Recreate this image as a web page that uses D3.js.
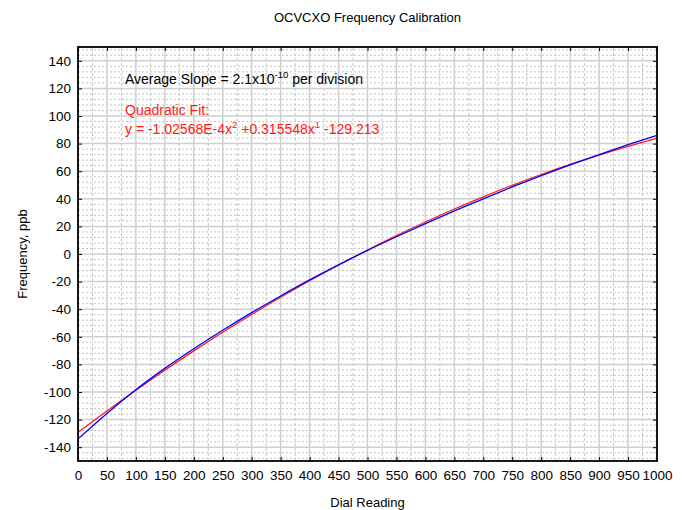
<!DOCTYPE html>
<html>
<head>
<meta charset="utf-8">
<script src="https://cdn.jsdelivr.net/npm/d3@7"></script>
<style>
  body { margin: 0; background: #fff; }
  text { font-family: "Liberation Sans", Arial, sans-serif; }
</style>
</head>
<body>
<div id="chart"></div>
<script>
'use strict';

var dial = [0, 50, 100, 150, 200, 250, 300, 350, 400, 450, 500,
            550, 600, 650, 700, 750, 800, 850, 900, 950, 1000];

// measured (blue)
var measured = [-134, -115.5, -98.3, -82.9, -68.7, -55.3, -42.5, -30.4, -18.8, -7.9, 2.6,
                12.5, 22.0, 31.2, 40.0, 48.6, 56.8, 64.6, 72.0, 79.2, 86.0];

// quadratic fit (red)
var fitted = [-129.2, -113.7, -98.7, -84.2, -70.2, -56.7, -43.8, -31.3, -19.4, -8.0, 2.9,
              13.3, 23.2, 32.6, 41.4, 49.8, 57.6, 64.9, 71.7, 78.0, 83.8];

var xTicks = d3.range(0, 1001, 50);
var yTicks = d3.range(-140, 141, 20);
var xMinor = d3.range(25, 1000, 50);
var yMinor = d3.range(-148, 150, 4).filter(function(v){ return v % 20 !== 0; });

var W = 683, H = 510;
var margin = {left: 78, right: 26, top: 47, bottom: 49};

var svg = d3.select('#chart').append('svg')
  .attr('width', W)
  .attr('height', H);

var x = d3.scaleLinear().domain([0, 1000]).range([margin.left, W - margin.right]);
var y = d3.scaleLinear().domain([-150, 150]).range([H - margin.bottom, margin.top]);

var grid = svg.append('g');

// minor grid
grid.selectAll('.hmin').data(yMinor).enter().append('line')
  .attr('x1', x(0)).attr('x2', x(1000))
  .attr('y1', function(d){ return y(d); }).attr('y2', function(d){ return y(d); })
  .attr('stroke', '#c4c4c4').attr('stroke-width', 1)
  .attr('stroke-dasharray', '2,2');

grid.selectAll('.vmin').data(xMinor).enter().append('line')
  .attr('y1', y(-150)).attr('y2', y(150))
  .attr('x1', function(d){ return x(d); }).attr('x2', function(d){ return x(d); })
  .attr('stroke', '#c4c4c4').attr('stroke-width', 1)
  .attr('stroke-dasharray', '3,2');

// major grid
grid.selectAll('.hmaj').data(yTicks).enter().append('line')
  .attr('x1', x(0)).attr('x2', x(1000))
  .attr('y1', function(d){ return y(d); }).attr('y2', function(d){ return y(d); })
  .attr('stroke', '#cfcfcf').attr('stroke-width', 1.5);

grid.selectAll('.vmaj').data(xTicks).enter().append('line')
  .attr('y1', y(-150)).attr('y2', y(150))
  .attr('x1', function(d){ return x(d); }).attr('x2', function(d){ return x(d); })
  .attr('stroke', '#cfcfcf').attr('stroke-width', 1.5);

// curves
var line = d3.line()
  .x(function(d){ return x(d[0]); })
  .y(function(d){ return y(d[1]); })
  .curve(d3.curveMonotoneX);

svg.append('path')
  .datum(d3.zip(dial, fitted))
  .attr('d', line)
  .attr('fill', 'none')
  .attr('stroke', '#ff1a1a')
  .attr('stroke-width', 1.3);

svg.append('path')
  .datum(d3.zip(dial, measured))
  .attr('d', line)
  .attr('fill', 'none')
  .attr('stroke', '#0000ff')
  .attr('stroke-width', 1.3);

// axes (plain hyphen for minus, as in the original)
var plain = function(d){ return String(d); };
var xAxis = d3.axisBottom(x).tickValues(xTicks).tickSize(-4).tickPadding(9).tickFormat(plain);
var yAxis = d3.axisLeft(y).tickValues(yTicks).tickSize(-4).tickPadding(7).tickFormat(plain);

var gx = svg.append('g').attr('transform', 'translate(0,' + y(-150) + ')').call(xAxis);
var gy = svg.append('g').attr('transform', 'translate(' + x(0) + ',0)').call(yAxis);
var gxt = svg.append('g').attr('transform', 'translate(0,' + y(150) + ')')
  .call(d3.axisTop(x).tickValues(xTicks).tickSize(-4).tickFormat(''));
var gyr = svg.append('g').attr('transform', 'translate(' + x(1000) + ',0)')
  .call(d3.axisRight(y).tickValues(yTicks).tickSize(-4).tickFormat(''));

[gx, gy, gxt, gyr].forEach(function(g){
  g.select('.domain').remove();
  g.selectAll('line').attr('stroke', '#000').attr('stroke-width', 1);
  g.selectAll('text').attr('font-size', 13.5).attr('fill', '#000')
    .attr('font-family', '"Liberation Sans", Arial, sans-serif');
});

// frame
svg.append('rect')
  .attr('x', x(0)).attr('y', y(150))
  .attr('width', x(1000) - x(0)).attr('height', y(-150) - y(150))
  .attr('fill', 'none').attr('stroke', '#000').attr('stroke-width', 1.8);

// titles
svg.append('text')
  .attr('x', (x(0) + x(1000)) / 2).attr('y', 22)
  .attr('text-anchor', 'middle').attr('font-size', 13)
  .text('OCVCXO Frequency Calibration');

svg.append('text')
  .attr('x', (x(0) + x(1000)) / 2).attr('y', 507)
  .attr('text-anchor', 'middle').attr('font-size', 13)
  .text('Dial Reading');

svg.append('text')
  .attr('transform', 'translate(27,' + ((y(150) + y(-150)) / 2) + ') rotate(-90)')
  .attr('text-anchor', 'middle').attr('font-size', 13)
  .text('Frequency, ppb');

// annotations
var t1 = svg.append('text').attr('x', 125).attr('y', 84).attr('font-size', 14);
t1.append('tspan').text('Average Slope = 2.1x10');
t1.append('tspan').attr('dy', -6).attr('font-size', 9.5).text('-10');
t1.append('tspan').attr('dy', 6).text(' per division');

svg.append('text').attr('x', 125).attr('y', 115).attr('font-size', 14)
  .attr('fill', '#ff1a1a').text('Quadratic Fit:');

var t2 = svg.append('text').attr('x', 125).attr('y', 134).attr('font-size', 14).attr('fill', '#ff1a1a');
t2.append('tspan').text('y = -1.02568E-4x');
t2.append('tspan').attr('dy', -6).attr('font-size', 9.5).text('2');
t2.append('tspan').attr('dy', 6).text(' +0.315548x');
t2.append('tspan').attr('dy', -6).attr('font-size', 9.5).text('1');
t2.append('tspan').attr('dy', 6).text(' -129.213');
</script>
</body>
</html>
